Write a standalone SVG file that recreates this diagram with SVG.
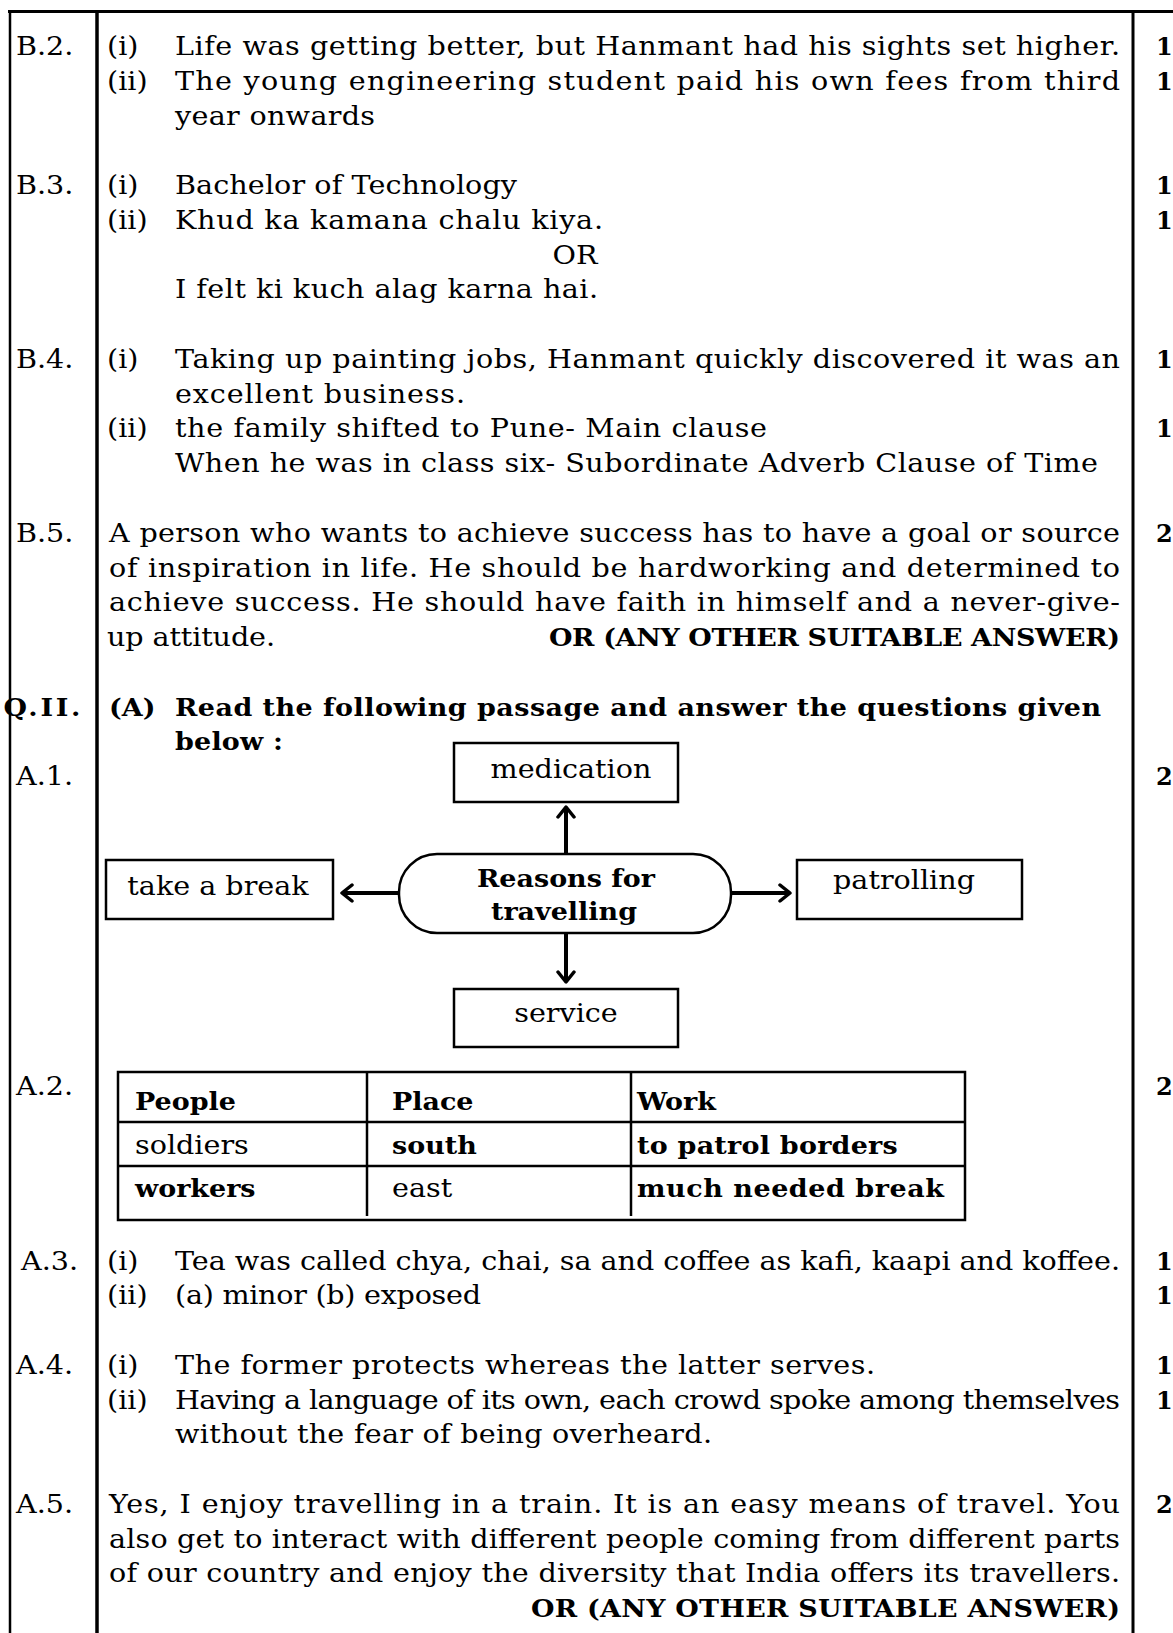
<svg xmlns="http://www.w3.org/2000/svg" width="1173" height="1633" viewBox="0 0 1173 1633">
<style>
text{font-family:"DejaVu Serif","Liberation Serif",serif;font-size:26px;fill:#000}
.b{font-weight:bold;font-size:24.5px}
.mk{font-weight:bold;font-size:24px}
.rule{stroke:#000;fill:none}
.box{fill:#fff;stroke:#000;stroke-width:2.5}
.conn{stroke:#000;stroke-width:4;fill:none}
</style>
<defs>
<marker id="ah" viewBox="0 0 14 20" refX="12" refY="10" markerWidth="14" markerHeight="20" markerUnits="userSpaceOnUse" orient="auto">
<path d="M2,2 L12,10 L2,18" fill="none" stroke="#000" stroke-width="3.5" stroke-linecap="round" stroke-linejoin="round"/>
</marker>
</defs>
<rect width="1173" height="1633" fill="#fff"/>
<g id="frame">
<line class="rule" x1="8" y1="11.5" x2="1173" y2="11.5" stroke-width="3"/>
<line class="rule" x1="10" y1="10" x2="10" y2="1633" stroke-width="2.5"/>
<line class="rule" x1="97" y1="10" x2="97" y2="1633" stroke-width="3.5"/>
<line class="rule" x1="1133" y1="10" x2="1133" y2="1633" stroke-width="3"/>
</g>
<g id="marks">
<text class="mk" x="1156" y="55">1</text>
<text class="mk" x="1156" y="90">1</text>
<text class="mk" x="1156" y="194">1</text>
<text class="mk" x="1156" y="229">1</text>
<text class="mk" x="1156" y="368">1</text>
<text class="mk" x="1156" y="437">1</text>
<text class="mk" x="1156" y="542">2</text>
<text class="mk" x="1156" y="785">2</text>
<text class="mk" x="1156" y="1095">2</text>
<text class="mk" x="1156" y="1270">1</text>
<text class="mk" x="1156" y="1304">1</text>
<text class="mk" x="1156" y="1374">1</text>
<text class="mk" x="1156" y="1409">1</text>
<text class="mk" x="1156" y="1513">2</text>
</g>
<g id="connectors">
<line class="conn" x1="566" y1="853" x2="566" y2="807" marker-end="url(#ah)"/>
<line class="conn" x1="566" y1="933" x2="566" y2="982" marker-end="url(#ah)"/>
<line class="conn" x1="399" y1="893" x2="342" y2="893" marker-end="url(#ah)"/>
<line class="conn" x1="731" y1="893" x2="790" y2="893" marker-end="url(#ah)"/>
</g>
<g id="node-shapes">
<rect id="shape-center" class="box" x="399" y="854" width="332" height="79" rx="38" ry="38"/>
<rect id="shape-medication" class="box" x="454" y="743" width="224" height="59"/>
<rect id="shape-take-a-break" class="box" x="106" y="860" width="227" height="59"/>
<rect id="shape-patrolling" class="box" x="797" y="860" width="225" height="59"/>
<rect id="shape-service" class="box" x="454" y="989" width="224" height="58"/>
</g>
<g id="table-lines">
<rect x="118" y="1072" width="847" height="148" fill="none" stroke="#000" stroke-width="2.5"/>
<line class="rule" x1="118" y1="1122" x2="965" y2="1122" stroke-width="2.5"/>
<line class="rule" x1="118" y1="1166" x2="965" y2="1166" stroke-width="2.5"/>
<line class="rule" x1="367" y1="1072" x2="367" y2="1216" stroke-width="2.5"/>
<line class="rule" x1="631" y1="1072" x2="631" y2="1216" stroke-width="2.5"/>
</g>
<g id="text" transform="scale(1.1 1)">
<g id="labels">
<text x="14.55" y="55">B.2.</text>
<text x="14.55" y="194">B.3.</text>
<text x="14.55" y="368">B.4.</text>
<text x="14.55" y="542">B.5.</text>
<text x="3.2" y="716" class="b" textLength="70" lengthAdjust="spacing">Q.II.</text>
<text x="14.55" y="785">A.1.</text>
<text x="14.55" y="1095">A.2.</text>
<text x="19.09" y="1270">A.3.</text>
<text x="14.55" y="1374">A.4.</text>
<text x="14.55" y="1513">A.5.</text>
</g>
<g id="answers">
<text x="97.3" y="55">(i)</text>
<text x="159.09" y="55" textLength="859.09" lengthAdjust="spacing">Life was getting better, but Hanmant had his sights set higher.</text>
<text x="97.3" y="90">(ii)</text>
<text x="159.09" y="90" textLength="859.09" lengthAdjust="spacing">The young engineering student paid his own fees from third</text>
<text x="159.09" y="125" textLength="181.82" lengthAdjust="spacing">year onwards</text>

<text x="97.3" y="194">(i)</text>
<text x="159.09" y="194" textLength="310.91" lengthAdjust="spacing">Bachelor of Technology</text>
<text x="97.3" y="229">(ii)</text>
<text x="159.09" y="229" textLength="389.09" lengthAdjust="spacing">Khud ka kamana chalu kiya.</text>
<text x="522.73" y="264" text-anchor="middle">OR</text>
<text x="159.09" y="298" textLength="384.55" lengthAdjust="spacing">I felt ki kuch alag karna hai.</text>

<text x="97.3" y="368">(i)</text>
<text x="159.09" y="368" textLength="859.09" lengthAdjust="spacing">Taking up painting jobs, Hanmant quickly discovered it was an</text>
<text x="159.09" y="403" textLength="263.64" lengthAdjust="spacing">excellent business.</text>
<text x="97.3" y="437">(ii)</text>
<text x="159.09" y="437" textLength="538.18" lengthAdjust="spacing">the family shifted to Pune- Main clause</text>
<text x="159.09" y="472" textLength="839.09" lengthAdjust="spacing">When he was in class six- Subordinate Adverb Clause of Time</text>

<text x="99.09" y="542" textLength="919.09" lengthAdjust="spacing">A person who wants to achieve success has to have a goal or source</text>
<text x="99.09" y="577" textLength="919.09" lengthAdjust="spacing">of inspiration in life. He should be hardworking and determined to</text>
<text x="99.09" y="611" textLength="919.09" lengthAdjust="spacing">achieve success. He should have faith in himself and a never-give-</text>
<text x="97.27" y="646" textLength="152.73" lengthAdjust="spacing">up attitude.</text>
<text x="499.09" y="646" class="b" textLength="519.09" lengthAdjust="spacing">OR (ANY OTHER SUITABLE ANSWER)</text>

<text x="99.09" y="716" class="b">(A)</text>
<text x="159.09" y="716" class="b" textLength="841.82" lengthAdjust="spacing">Read the following passage and answer the questions given</text>
<text x="159.09" y="750" class="b" textLength="98.18" lengthAdjust="spacing">below :</text>

<text x="97.3" y="1270">(i)</text>
<text x="159.09" y="1270" textLength="859.09" lengthAdjust="spacing">Tea was called chya, chai, sa and coffee as kafi, kaapi and koffee.</text>
<text x="97.3" y="1304">(ii)</text>
<text x="159.09" y="1304" textLength="278.18" lengthAdjust="spacing">(a) minor (b) exposed</text>

<text x="97.3" y="1374">(i)</text>
<text x="159.09" y="1374" textLength="636.36" lengthAdjust="spacing">The former protects whereas the latter serves.</text>
<text x="97.3" y="1409">(ii)</text>
<text x="159.09" y="1409" textLength="859.09" lengthAdjust="spacing">Having a language of its own, each crowd spoke among themselves</text>
<text x="159.09" y="1443" textLength="488.18" lengthAdjust="spacing">without the fear of being overheard.</text>

<text x="99.09" y="1513" textLength="919.09" lengthAdjust="spacing">Yes, I enjoy travelling in a train. It is an easy means of travel. You</text>
<text x="99.09" y="1548" textLength="919.09" lengthAdjust="spacing">also get to interact with different people coming from different parts</text>
<text x="99.09" y="1582" textLength="919.09" lengthAdjust="spacing">of our country and enjoy the diversity that India offers its travellers.</text>
<text x="482.73" y="1617" class="b" textLength="535.45" lengthAdjust="spacing">OR (ANY OTHER SUITABLE ANSWER)</text>
</g>
<g id="node-center">
<text x="514.55" y="887" class="b" text-anchor="middle">Reasons for</text>
<text x="512.73" y="920" class="b" text-anchor="middle">travelling</text>
</g>
<g id="node-medication">
<text x="519.09" y="778" text-anchor="middle">medication</text>
</g>
<g id="node-take-a-break">
<text x="198.18" y="895" text-anchor="middle">take a break</text>
</g>
<g id="node-patrolling">
<text x="821.82" y="889" text-anchor="middle">patrolling</text>
</g>
<g id="node-service">
<text x="514.55" y="1022" text-anchor="middle">service</text>
</g>
<g id="table">
<text x="122.73" y="1110" class="b">People</text>
<text x="356.36" y="1110" class="b">Place</text>
<text x="579.09" y="1110" class="b">Work</text>
<text x="122.73" y="1154">soldiers</text>
<text x="356.36" y="1154" class="b">south</text>
<text x="579.09" y="1154" class="b" textLength="237" lengthAdjust="spacing">to patrol borders</text>
<text x="122.73" y="1197" class="b">workers</text>
<text x="356.36" y="1197">east</text>
<text x="579.09" y="1197" class="b" textLength="279" lengthAdjust="spacing">much needed break</text>
</g>
</g>
</svg>
